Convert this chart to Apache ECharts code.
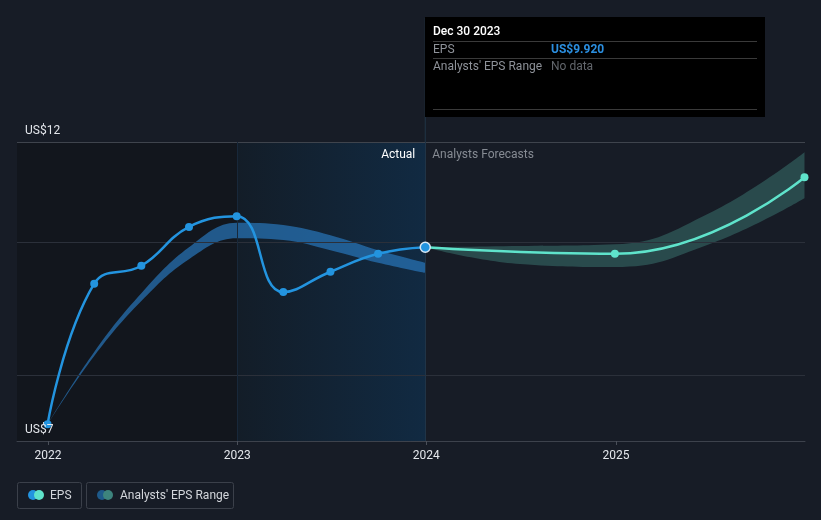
<!DOCTYPE html>
<html>
<head>
<meta charset="utf-8">
<style>
html,body{margin:0;padding:0;background:#171c26;}
#chart{width:821px;height:520px;}
</style>
<script src="https://cdn.jsdelivr.net/npm/echarts@6/dist/echarts.min.js"></script>
</head>
<body>
<div id="chart"></div>
<script>
// ---- data ----
var epsDates = ['2021-12-31','2022-03-31','2022-06-30','2022-09-30','2022-12-31','2023-03-31','2023-06-30','2023-09-30','2023-12-30'];
var epsValues = [7.28, 9.63, 9.93, 10.58, 10.76, 9.49, 9.83, 10.13, 10.24];

var forecastDates = ['2023-12-30','2024-12-30','2025-12-31'];
var forecastValues = [10.24, 10.13, 11.41];

var forecastRangeDates = ['2023-12-30','2024-06-30','2024-12-30','2025-06-30','2025-12-31'];
var forecastLow = [10.24, 9.96, 9.91, 10.29, 11.06];
var forecastHigh = [10.24, 10.26, 10.29, 10.81, 11.83];

var pastRangeDates = ['2021-12-31','2022-03-31','2022-06-30','2022-09-30','2022-12-31','2023-03-31','2023-06-30','2023-09-30','2023-12-30'];
var pastRangeLow = [7.28, 8.42, 9.34, 10.04, 10.39, 10.36, 10.19, 9.98, 9.81];
var pastRangeHigh = [7.28, 8.49, 9.47, 10.24, 10.65, 10.61, 10.44, 10.19, 9.98];

var yTickValues = [7, 12];
var gridValues = [12, 10.33, 8.1];

var tooltipTitle = 'Dec 30 2023';
var tooltipEps = 'US$9.920';

// ---- helpers ----
function ts(s){ var p = s.split('-'); return Date.UTC(+p[0], +p[1]-1, +p[2]); }
function pairs(d, v){ return d.map(function(x,i){ return [ts(x), v[i]]; }); }
function diffs(d, lo, hi){ return d.map(function(x,i){ return [ts(x), +(hi[i]-lo[i]).toFixed(3)]; }); }

var chart = echarts.init(document.getElementById('chart'), null, {renderer:'canvas'});
var FONT = 'Roboto, "Noto Sans", sans-serif';
var YEAR = 365 * 24 * 3600 * 1000;

var option = {
  backgroundColor: '#171c26',
  animation: false,
  grid: {left: 17, right: 16, top: 142, bottom: 79},
  xAxis: {
    type: 'time', z: 10,
    min: ts('2021-11-02'),
    max: ts('2026-01-01') - 3600 * 1000,
    minInterval: YEAR, maxInterval: YEAR * 1.01,
    axisLine: {lineStyle: {color: '#3d424c', width: 1}},
    axisTick: {show: true, length: 4, lineStyle: {color: '#4a4f59'}},
    axisLabel: {color: '#e3e6eb', fontSize: 12, fontFamily: FONT, margin: 9, hideOverlap: false,
      formatter: function(v){ return String(new Date(v).getUTCFullYear()); }},
    splitLine: {show: false}
  },
  yAxis: {
    type: 'value', min: 7, max: 12, z: 10,
    axisLine: {show: false}, axisTick: {show: false},
    splitLine: {show: false},
    axisLabel: {inside: true, customValues: yTickValues, showMinLabel: true, showMaxLabel: true,
      color: '#e3e6eb', fontSize: 12, fontFamily: FONT,
      margin: 8, verticalAlign: 'bottom', padding: [0,0,5,0],
      formatter: function(v){ return 'US$' + v; }}
  },
  series: [
    { // shading + gridlines holder
      type: 'line', data: [], silent: true, z: 1,
      markArea: {silent: true, data: [
        [{xAxis: ts('2021-11-02'), itemStyle: {color: '#12161d'}}, {xAxis: ts('2023-01-01')}],
        [{xAxis: ts('2023-01-01'), itemStyle: {color: new echarts.graphic.LinearGradient(0,0,1,0,[{offset:0,color:'#131d28'},{offset:1,color:'#112a42'}])}}, {xAxis: ts('2023-12-30')}]
      ]},
      markLine: {silent: true, symbol: 'none', label: {show: false},
        data: gridValues.map(function(v,i){ return {yAxis: v, lineStyle: {color: i===0 ? '#3f444d' : '#2b303a', width: 1, type: 'solid'}}; })
          .concat([
            {xAxis: ts('2023-01-01'), lineStyle: {color: '#18283a', width: 1, type: 'solid'}},
            {xAxis: ts('2023-12-30'), lineStyle: {color: '#203447', width: 1, type: 'solid'}}
          ])}
    },
    { type: 'line', data: pairs(pastRangeDates, pastRangeLow), stack: 'past', smooth: 0.4,
      symbol: 'none', lineStyle: {opacity: 0}, silent: true, z: 3 },
    { type: 'line', data: diffs(pastRangeDates, pastRangeLow, pastRangeHigh), stack: 'past', smooth: 0.4,
      symbol: 'none', lineStyle: {opacity: 0}, areaStyle: {color: 'rgba(40,118,186,0.7)', opacity: 1}, silent: true, z: 3 },
    { type: 'line', data: pairs(forecastRangeDates, forecastLow), stack: 'fc', smooth: 0.45,
      symbol: 'none', lineStyle: {opacity: 0}, silent: true, z: 3 },
    { type: 'line', data: diffs(forecastRangeDates, forecastLow, forecastHigh), stack: 'fc', smooth: 0.45,
      symbol: 'none', lineStyle: {opacity: 0}, areaStyle: {color: 'rgba(80,170,160,0.32)', opacity: 1}, silent: true, z: 3 },
    { name: 'Forecast', type: 'line', data: pairs(forecastDates, forecastValues), smooth: 0.5,
      symbol: 'circle', symbolSize: 8, showSymbol: true,
      lineStyle: {color: '#5fe3cb', width: 2.5}, itemStyle: {color: '#5fe3cb'}, z: 5 },
    { name: 'EPS', type: 'line', smooth: 0.45,
      data: pairs(epsDates, epsValues).map(function(p,i,a){
        if (i === a.length-1) return {value: p, symbolSize: 10, itemStyle: {color: '#2394df', borderColor: '#d8e8f5', borderWidth: 1.5}};
        return p; }),
      symbol: 'circle', symbolSize: 8,
      lineStyle: {color: '#2394df', width: 2.5}, itemStyle: {color: '#2394df'}, z: 6 }
  ]
};
chart.setOption(option);

var px = chart.convertToPixel({gridIndex: 0}, [ts('2023-12-30'), 12])[0];
function g(o){ o.z = 100; return o; }
chart.setOption({graphic: [
  {type: 'line', shape: {x1: px, y1: 18, x2: px, y2: 142}, style: {stroke: '#203447', lineWidth: 1}, silent: true},
  {type: 'rect', shape: {x: 425, y: 17, width: 340, height: 100}, style: {fill: '#000000'}},
  {type: 'text', x: 433, y: 32, style: {text: tooltipTitle, fill: '#ffffff', font: '500 12px ' + FONT, verticalAlign: 'middle'}},
  {type: 'line', shape: {x1: 433, y1: 41.5, x2: 757, y2: 41.5}, style: {stroke: '#3a3a3a', lineWidth: 1}},
  {type: 'text', x: 433, y: 50, style: {text: 'EPS', fill: '#8e9299', font: '12px ' + FONT, verticalAlign: 'middle'}},
  {type: 'text', x: 551, y: 50, style: {text: tooltipEps, fill: '#2b8fe0', font: 'bold 12px ' + FONT, verticalAlign: 'middle'}},
  {type: 'line', shape: {x1: 433, y1: 58.5, x2: 757, y2: 58.5}, style: {stroke: '#3a3a3a', lineWidth: 1}},
  {type: 'text', x: 433, y: 67, style: {text: "Analysts' EPS Range", fill: '#8e9299', font: '12px ' + FONT, verticalAlign: 'middle'}},
  {type: 'text', x: 551, y: 67, style: {text: 'No data', fill: '#62666c', font: '12px ' + FONT, verticalAlign: 'middle'}},
  {type: 'line', shape: {x1: 433, y1: 109.5, x2: 757, y2: 109.5}, style: {stroke: '#3a3a3a', lineWidth: 1}},
  {type: 'text', x: px - 10, y: 155, style: {text: 'Actual', fill: '#ffffff', font: '12px ' + FONT, align: 'right', verticalAlign: 'middle'}},
  {type: 'text', x: px + 7, y: 155, style: {text: 'Analysts Forecasts', fill: '#868b93', font: '12px ' + FONT, align: 'left', verticalAlign: 'middle'}},
  {type: 'rect', shape: {x: 17.5, y: 482.5, width: 64, height: 26, r: 2}, style: {fill: 'transparent', stroke: '#3b404a', lineWidth: 1}},
  {type: 'circle', shape: {cx: 33, cy: 495, r: 5}, style: {fill: '#2394df'}},
  {type: 'circle', shape: {cx: 39, cy: 495, r: 5}, style: {fill: '#5fe3cb'}},
  {type: 'text', x: 50, y: 496, style: {text: 'EPS', fill: '#d3d6db', font: '12px ' + FONT, verticalAlign: 'middle'}},
  {type: 'rect', shape: {x: 86.5, y: 482.5, width: 147, height: 26, r: 2}, style: {fill: 'transparent', stroke: '#3b404a', lineWidth: 1}},
  {type: 'circle', shape: {cx: 102, cy: 495, r: 5}, style: {fill: '#1e5a8a'}},
  {type: 'circle', shape: {cx: 108, cy: 495, r: 5}, style: {fill: '#3d847d'}},
  {type: 'text', x: 120, y: 496, style: {text: "Analysts' EPS Range", fill: '#d3d6db', font: '12px ' + FONT, verticalAlign: 'middle'}}
].map(g)});
</script>
</body>
</html>
